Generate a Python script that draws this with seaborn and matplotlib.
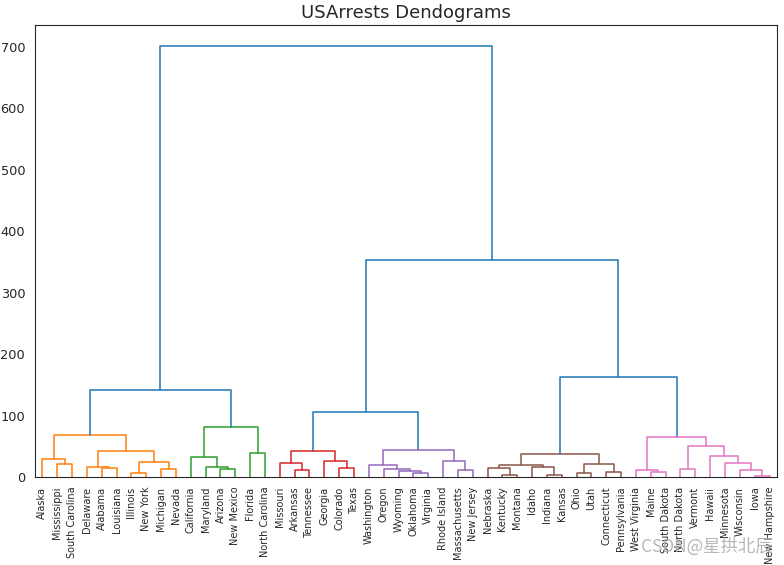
import matplotlib
matplotlib.use("Agg")
import numpy as np
import pandas as pd
import seaborn as sns
import matplotlib.pyplot as plt

# leaf order as it appears along the x axis
states = ["Alaska", "Mississippi", "South Carolina", "Delaware", "Alabama", "Louisiana",
          "Illinois", "New York", "Michigan", "Nevada", "California", "Maryland", "Arizona",
          "New Mexico", "Florida", "North Carolina", "Missouri", "Arkansas", "Tennessee",
          "Georgia", "Colorado", "Texas", "Washington", "Oregon", "Wyoming", "Oklahoma",
          "Virginia", "Rhode Island", "Massachusetts", "New Jersey", "Nebraska", "Kentucky",
          "Montana", "Idaho", "Indiana", "Kansas", "Ohio", "Utah", "Connecticut",
          "Pennsylvania", "West Virginia", "Maine", "South Dakota", "North Dakota", "Vermont",
          "Hawaii", "Minnesota", "Wisconsin", "Iowa", "New Hampshire"]

# merges: strings are leaves, ints point at an earlier merge
merge_a = ["Mississippi", "Alaska", "Alabama", "Delaware", "Illinois", "Michigan", 4, 3, 1,
           "Arizona", "Maryland", "California", "Florida", 11, 8,
           "Arkansas", "Missouri", "Colorado", "Georgia", 16,
           "Oklahoma", "Wyoming", "Oregon", "Washington", "Massachusetts", "Rhode Island", 23, 19,
           "Kentucky", "Nebraska", "Indiana", "Idaho", 29, "Ohio", "Connecticut", 33, 32,
           "Maine", "West Virginia", "Iowa", "Wisconsin", "Minnesota", "Hawaii", "North Dakota",
           43, 38, 36, 27, 14]
merge_b = ["South Carolina", 0, "Louisiana", 2, "New York", "Nevada", 5, 6, 7,
           "New Mexico", 9, 10, "North Carolina", 12, 13,
           "Tennessee", 15, "Texas", 17, 18,
           "Virginia", 20, 21, 22, "New Jersey", 24, 25, 26,
           "Montana", 28, "Kansas", 30, 31, "Utah", "Pennsylvania", 34, 35,
           "South Dakota", 37, "New Hampshire", 39, 40, 41, "Vermont",
           42, 44, 45, 46, 47]
merge_h = [21.0, 29.5, 14.6, 16.7, 6.5, 13.0, 24.4, 42.5, 68.5,
           12.8, 15.7, 32.2, 38.8, 81.3, 141.0,
           12.0, 22.5, 14.4, 25.8, 42.0,
           5.8, 10.2, 13.7, 19.0, 11.1, 25.7, 43.3, 105.5,
           3.3, 14.0, 3.3, 15.6, 19.5, 6.5, 7.5, 21.1, 37.4,
           8.1, 10.7, 2.1, 11.9, 23.2, 34.1, 13.0,
           50.9, 65.0, 162.8, 353.0, 701.0]

color_threshold = 100
pal = sns.color_palette("tab10").as_hex()

sns.set_style("white")

leaf_x = {s: 5 + 10 * i for i, s in enumerate(states)}
node_x = []


def locate(k):
    if isinstance(k, str):
        return leaf_x[k], 0.0
    return node_x[k], merge_h[k]


for a, b in zip(merge_a, merge_b):
    node_x.append((locate(a)[0] + locate(b)[0]) / 2)

# cluster colours: every highest merge that stays under the threshold gets its own colour
parent = {}
for i, (a, b) in enumerate(zip(merge_a, merge_b)):
    for k in (a, b):
        if not isinstance(k, str):
            parent[k] = i
roots = [i for i, h in enumerate(merge_h)
         if h < color_threshold and merge_h[parent[i]] >= color_threshold]
roots.sort(key=lambda i: node_x[i])
root_color = {r: pal[1 + j] for j, r in enumerate(roots)}


def link_color(i):
    if merge_h[i] >= color_threshold:
        return pal[0]
    while i not in root_color:
        i = parent[i]
    return root_color[i]


rows = []
for i, (a, b, h) in enumerate(zip(merge_a, merge_b, merge_h)):
    xa, ya = locate(a)
    xb, yb = locate(b)
    c = link_color(i)
    rows += [(i, xa, ya, c), (i, xa, h, c), (i, xb, h, c), (i, xb, yb, c)]
df = pd.DataFrame(rows, columns=["link", "x", "y", "color"])

fig = plt.figure(figsize=(7.84, 5.65), dpi=100)
ax = fig.add_axes([0.0446, 0.1558, 0.9464, 0.8008])
sns.lineplot(data=df, x="x", y="y", units="link", estimator=None, sort=False,
             hue="color", palette={c: c for c in df["color"].unique()},
             legend=False, linewidth=1.1, ax=ax)

ax.set_xlim(0, 10 * len(states))
ax.set_ylim(0, max(merge_h) * 1.05)
ax.set_xticks([leaf_x[s] for s in states])
ax.set_xticklabels(states, rotation=90, fontsize=7.0)
ax.tick_params(axis="y", labelsize=9.3)
ax.set_xlabel("")
ax.set_ylabel("")
ax.set_title("USArrests Dendograms", fontsize=13, pad=5)

# site watermark in the lower right corner
fig.text(0.986, 0.032, "CSDN@星拱北辰", ha="right", va="center", fontsize=12.5,
         color="#b0b0b0", alpha=0.9, family=["Noto Sans CJK SC", "DejaVu Sans"])

fig.savefig("out.png", dpi=100)
